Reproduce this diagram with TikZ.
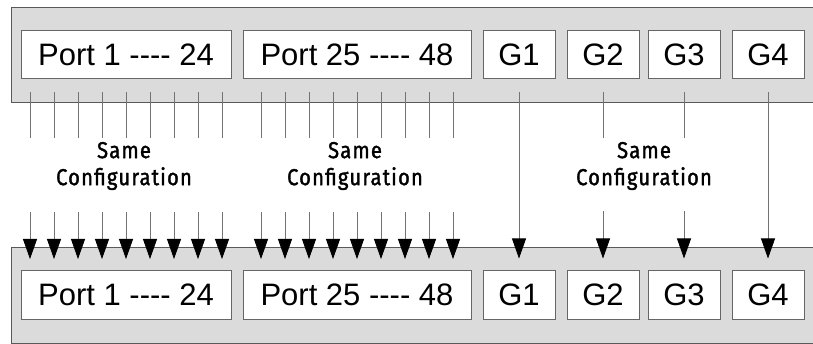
\documentclass[tikz,border=0pt]{standalone}
\usepackage{fontspec}
\setmainfont{Liberation Sans}[Ligatures=TeXOff]
\newfontfamily\cfgfont[FakeStretch=0.88,FakeBold=1.5,LetterSpace=5]{Fira Sans}
\usetikzlibrary{arrows.meta,positioning}

\tikzset{
  panel/.style={draw=black!65,fill=black!14,line width=1pt},
  portbox/.style={draw=black!60,fill=white,line width=1pt,minimum height=48pt,inner sep=0pt,
    font=\fontsize{31}{31}\selectfont},
  tick/.style={draw=black!55,line width=0.8pt},
  feed/.style={tick,-{Triangle[width=14pt,length=20pt,black]}},
  cfg/.style={font=\cfgfont\fontsize{23}{27}\selectfont,align=center}
}

\begin{document}
\begin{tikzpicture}[x=1pt,y=-1pt]
\useasboundingbox (0,0) rectangle (813,344);

% switch panels
\draw[panel] (820,8) -- (11,8) -- (11,103) -- (820,103);
\draw[panel] (820,248) -- (11,248) -- (11,343) -- (820,343);

% upper switch
\node[portbox,minimum width=210pt] (tp1) at (126,55) {Port 1 ---- 24};
\node[portbox,minimum width=228pt] (tp25) at (357,55) {Port 25 ---- 48};
\foreach \n/\x in {1/519,2/603,3/684,4/768}
  \node[portbox,minimum width=72pt] (tg\n) at (\x,55) {G\n};

% lower switch
\node[portbox,minimum width=210pt] (bp1) at (126,295) {Port 1 ---- 24};
\node[portbox,minimum width=228pt] (bp25) at (357,295) {Port 25 ---- 48};
\foreach \n/\x in {1/519,2/603,3/684,4/768}
  \node[portbox,minimum width=72pt] (bg\n) at (\x,295) {G\n};

% port lines
\foreach \g/\s in {lo/30,hi/261}{
  \foreach \i in {0,...,8}{
    \coordinate (\g up\i) at ({\s+24*\i},92);
    \coordinate (\g mid\i) at ({\s+24*\i},138);
    \coordinate (\g in\i) at ({\s+24*\i},212);
    \coordinate (\g end\i) at ({\s+24*\i},259);
    \draw[tick] (\g up\i) -- (\g mid\i);
    \draw[feed] (\g in\i) -- (\g end\i);
  }
}

% uplink lines
\foreach \n in {1,4}
  \draw[feed] ([yshift=-13pt]tg\n.south) -- ([yshift=12pt]bg\n.north);
\foreach \n in {2,3}{
  \draw[tick] ([yshift=-13pt]tg\n.south) -- ([yshift=-59pt]tg\n.south);
  \draw[feed] ([yshift=59pt]bg\n.north) -- ([yshift=12pt]bg\n.north);
}

% labels
\node[cfg] (cfg1) at (124,166) {Same\\Configuration};
\node[cfg] (cfg25) at (355,166) {Same\\Configuration};
\node[cfg] (cfgg) at (644,166) {Same\\Configuration};

\end{tikzpicture}
\end{document}
